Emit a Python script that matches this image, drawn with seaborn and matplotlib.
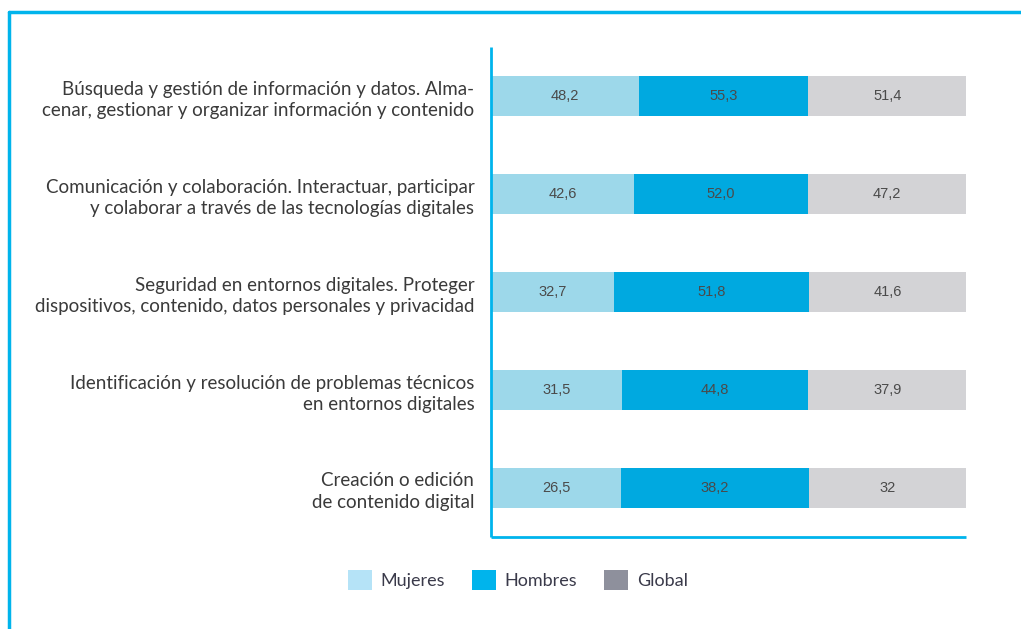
import numpy as np
import pandas as pd
import matplotlib.pyplot as plt
import seaborn as sns
from matplotlib.patches import Patch
from matplotlib.lines import Line2D

# Data
categories = [
    "Búsqueda y gestión de información y datos. Alma-\ncenar, gestionar y organizar información y contenido",
    "Comunicación y colaboración. Interactuar, participar\ny colaborar a través de las tecnologías digitales",
    "Seguridad en entornos digitales. Proteger\ndispositivos, contenido, datos personales y privacidad",
    "Identificación y resolución de problemas técnicos\nen entornos digitales",
    "Creación o edición\nde contenido digital",
]
mujeres = [48.2, 42.6, 32.7, 31.5, 26.5]
hombres = [55.3, 52.0, 51.8, 44.8, 38.2]
global_ = [51.4, 47.2, 41.6, 37.9, 32.0]
value_labels = {
    "Mujeres": ["48,2", "42,6", "32,7", "31,5", "26,5"],
    "Hombres": ["55,3", "52,0", "51,8", "44,8", "38,2"],
    "Global": ["51,4", "47,2", "41,6", "37,9", "32"],
}

bar_colors = {"Mujeres": "#9dd8ea", "Hombres": "#00a9e0", "Global": "#d3d3d6"}
legend_colors = {"Mujeres": "#b5e3f7", "Hombres": "#00b4ec", "Global": "#8e909c"}
frame_color = "#00b4ec"

df = pd.DataFrame({"cat": categories, "Mujeres": mujeres,
                   "Hombres": hombres, "Global": global_})
total = df[["Mujeres", "Hombres", "Global"]].sum(axis=1)
df["m"] = df["Mujeres"] / total
df["mh"] = (df["Mujeres"] + df["Hombres"]) / total
df["all"] = 1.0

sns.set_theme(style="white")
plt.rcParams["font.family"] = ["Lato", "DejaVu Sans"]

fig = plt.figure(figsize=(10.21, 6.29), dpi=100)
ax = fig.add_axes([491 / 1021, 1 - 537 / 629, 475 / 1021, 490 / 629])

# stacked bars drawn back to front as cumulative shares
for col, key in [("all", "Global"), ("mh", "Hombres"), ("m", "Mujeres")]:
    sns.barplot(data=df, x=col, y="cat", orient="h", color=bar_colors[key],
                saturation=1, width=0.41, ax=ax, linewidth=0)

# value labels
starts = {"Mujeres": np.zeros(len(df)), "Hombres": df["m"].values, "Global": df["mh"].values}
ends = {"Mujeres": df["m"].values, "Hombres": df["mh"].values, "Global": df["all"].values}
for key in ["Mujeres", "Hombres", "Global"]:
    for i in range(len(df)):
        xc = (starts[key][i] + ends[key][i]) / 2
        ax.text(xc, i, value_labels[key][i], ha="center", va="center",
                fontsize=10.5, color="#4a4a4a", family=["Liberation Sans", "DejaVu Sans"])

ax.set_xlim(0, 1)
ax.set_ylim(4.5, -0.5)
ax.set_xlabel("")
ax.set_ylabel("")
ax.set_xticks([])
ax.tick_params(axis="y", length=0, pad=12)
for lab in ax.get_yticklabels():
    lab.set_fontsize(13.5)
    lab.set_color("#3a3a3a")
    lab.set_horizontalalignment("right")
    lab.set_multialignment("right")
    lab.set_linespacing(1.3)
for s in ["top", "right"]:
    ax.spines[s].set_visible(False)
for s in ["left", "bottom"]:
    ax.spines[s].set_color(frame_color)
    ax.spines[s].set_linewidth(2)
    ax.spines[s].set_capstyle("butt")

# outer frame lines
fig.add_artist(Line2D([9 / 1021, 9 / 1021], [0, 1 - 12 / 629], color=frame_color, lw=2.5))
fig.add_artist(Line2D([9 / 1021, 1], [1 - 12 / 629, 1 - 12 / 629], color=frame_color, lw=2.5))

handles = [Patch(facecolor=legend_colors[k], edgecolor="none", label=k)
           for k in ["Mujeres", "Hombres", "Global"]]
leg = fig.legend(handles=handles, loc="center", bbox_to_anchor=(518 / 1021, 1 - 580 / 629),
                 ncol=3, frameon=False, fontsize=13, handlelength=1.3, handleheight=1.3,
                 handletextpad=0.5, columnspacing=1.5)
for t in leg.get_texts():
    t.set_color("#3a3a4a")

fig.savefig("out.png", dpi=100)
